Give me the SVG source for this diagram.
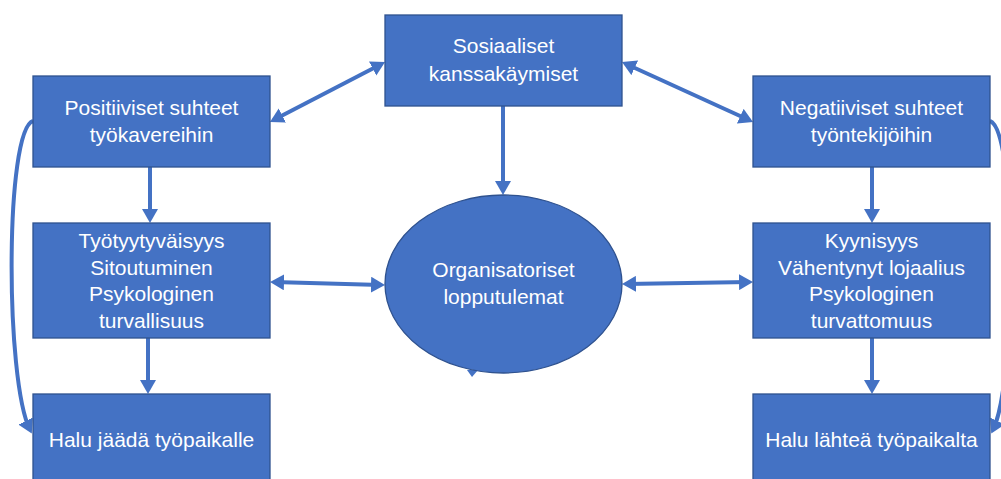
<svg xmlns="http://www.w3.org/2000/svg" width="1001" height="479" viewBox="0 0 1001 479">
  <style>
    .box { fill: #4472C4; stroke: #2F528F; stroke-width: 1.3; }
    .lbl { fill: #FFFFFF; font-family: "Liberation Sans", Arial, sans-serif; font-size: 21px; text-anchor: middle; }
    .conn { fill: none; stroke: #4472C4; stroke-width: 4; }
  </style>
  <defs>
    <marker id="head" viewBox="0 0 14 16" refX="10" refY="8" markerWidth="14" markerHeight="16" markerUnits="userSpaceOnUse" orient="auto-start-reverse">
      <path d="M0,0 L14,8 L0,16 Z" fill="#4472C4"/>
    </marker>
  </defs>

  <rect width="1001" height="479" fill="#FFFFFF"/>

  <!-- connectors -->
  <g id="connectors">
    <!-- vertical flows -->
    <path class="conn" d="M150,167 L150,219" marker-end="url(#head)"/>
    <path class="conn" d="M148,338 L148,390" marker-end="url(#head)"/>
    <path class="conn" d="M872,167 L872,219" marker-end="url(#head)"/>
    <path class="conn" d="M872,338 L872,390" marker-end="url(#head)"/>
    <path class="conn" d="M503,106 L503,191" marker-end="url(#head)"/>
    <!-- two-way links -->
    <path class="conn" d="M274,282 L381,285" marker-start="url(#head)" marker-end="url(#head)"/>
    <path class="conn" d="M626,284 L749,282" marker-start="url(#head)" marker-end="url(#head)"/>
    <path class="conn" d="M273.5,120.1 L381.5,63.9" marker-start="url(#head)" marker-end="url(#head)"/>
    <path class="conn" d="M625.6,63.7 L749.4,120.3" marker-start="url(#head)" marker-end="url(#head)"/>
    <!-- outer curved links -->
    <path class="conn" d="M33,121 C5,130 5,380 30,430" marker-end="url(#head)"/>
    <path class="conn" d="M990,121 C1017,130 1017,380 993,430" marker-end="url(#head)"/>
    <!-- small tip below the ellipse -->
    <polygon points="467,370 478,370 472,377" fill="#4472C4"/>
  </g>

  <g id="n-sosiaaliset">
    <rect class="box" x="385" y="15" width="237" height="91"/>
    <text class="lbl" x="503.5" y="53">Sosiaaliset</text>
    <text class="lbl" x="503.5" y="81">kanssakäymiset</text>
  </g>

  <g id="n-organisatoriset">
    <ellipse class="box" cx="503.5" cy="284" rx="118.5" ry="89"/>
    <text class="lbl" x="503.5" y="277">Organisatoriset</text>
    <text class="lbl" x="503.5" y="304">lopputulemat</text>
  </g>

  <g id="n-positiiviset">
    <rect class="box" x="33" y="76" width="237" height="91"/>
    <text class="lbl" x="151.5" y="115">Positiiviset suhteet</text>
    <text class="lbl" x="151.5" y="142">työkavereihin</text>
  </g>

  <g id="n-tyytyvaisyys">
    <rect class="box" x="33" y="223" width="237" height="115"/>
    <text class="lbl" x="151.5" y="248">Työtyytyväisyys</text>
    <text class="lbl" x="151.5" y="274.5">Sitoutuminen</text>
    <text class="lbl" x="151.5" y="301">Psykologinen</text>
    <text class="lbl" x="151.5" y="327.5">turvallisuus</text>
  </g>

  <g id="n-jaada">
    <rect class="box" x="33" y="394" width="237" height="90"/>
    <text class="lbl" x="151.5" y="447">Halu jäädä työpaikalle</text>
  </g>

  <g id="n-negatiiviset">
    <rect class="box" x="753" y="76" width="237" height="91"/>
    <text class="lbl" x="871.5" y="115">Negatiiviset suhteet</text>
    <text class="lbl" x="871.5" y="142">työntekijöihin</text>
  </g>

  <g id="n-kyynisyys">
    <rect class="box" x="753" y="223" width="237" height="115"/>
    <text class="lbl" x="871.5" y="248">Kyynisyys</text>
    <text class="lbl" x="871.5" y="274.5">Vähentynyt lojaalius</text>
    <text class="lbl" x="871.5" y="301">Psykologinen</text>
    <text class="lbl" x="871.5" y="327.5">turvattomuus</text>
  </g>

  <g id="n-lahtea">
    <rect class="box" x="753" y="394" width="237" height="90"/>
    <text class="lbl" x="871.5" y="447">Halu lähteä työpaikalta</text>
  </g>
</svg>
